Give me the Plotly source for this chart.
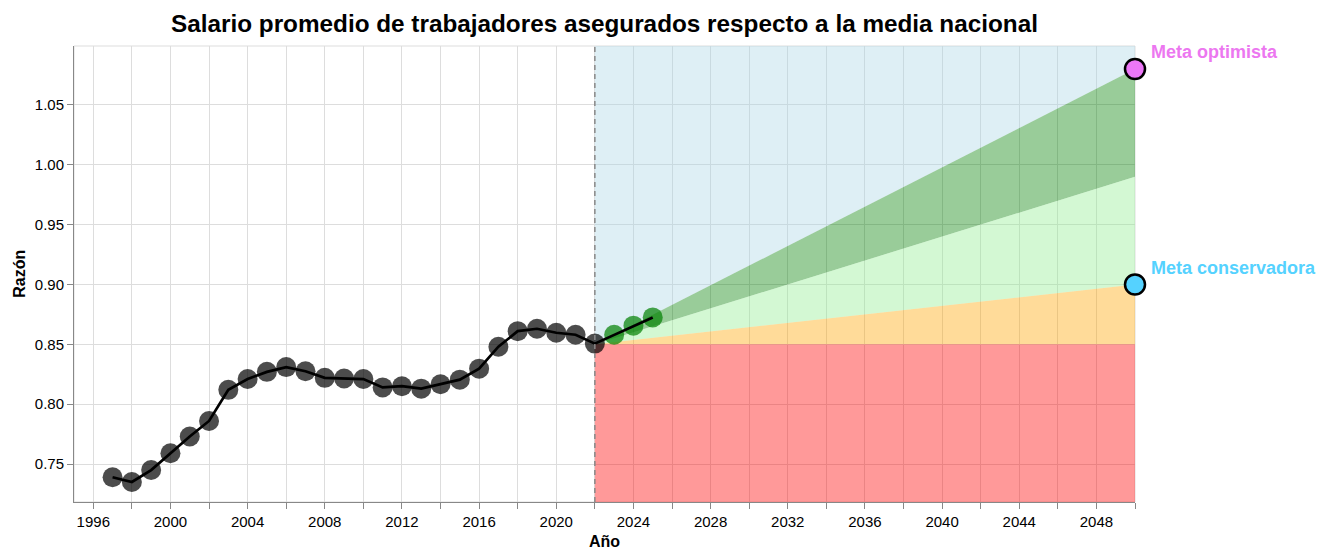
import plotly.graph_objects as go

# ---------------- data ----------------
years_hist = [1997, 1998, 1999, 2000, 2001, 2002, 2003, 2004, 2005, 2006, 2007, 2008, 2009,
              2010, 2011, 2012, 2013, 2014, 2015, 2016, 2017, 2018, 2019, 2020, 2021, 2022]
ratio_hist = [0.739, 0.735, 0.745, 0.759, 0.773, 0.786, 0.812, 0.821, 0.827, 0.831, 0.8275,
              0.822, 0.8215, 0.821, 0.814, 0.815, 0.813, 0.8167, 0.8205, 0.8297, 0.848,
              0.861, 0.863, 0.8597, 0.858, 0.8506]
years_recent = [2023, 2024, 2025]
ratio_recent = [0.858, 0.8656, 0.8725]

proj_start = 2022
goal_year = 2050
base_value = 0.85
meta_conservadora = 0.90
meta_intermedia = 0.99
meta_optimista = 1.08

x_range = [1995, 2050]
y_range = [0.7183, 1.0992]

title_text = "Salario promedio de trabajadores asegurados respecto a la media nacional"
x_title = "Año"
y_title = "Razón"
label_opt = "Meta optimista"
label_cons = "Meta conservadora"

FONT = "Liberation Sans, Arial, sans-serif"

fig = go.Figure()

def band(xs, ys, color):
    fig.add_trace(go.Scatter(x=xs, y=ys, fill="toself", fillcolor=color, mode="lines",
                             line=dict(width=0), hoverinfo="skip", showlegend=False))

# blue region above optimistic line
band([proj_start, goal_year, goal_year, proj_start],
     [base_value, meta_optimista, y_range[1], y_range[1]], "rgba(173,216,230,0.4)")
# dark green: between intermediate and optimistic
band([proj_start, goal_year, goal_year],
     [base_value, meta_optimista, meta_intermedia], "rgba(0,128,0,0.4)")
# light green: between conservative and intermediate
band([proj_start, goal_year, goal_year],
     [base_value, meta_intermedia, meta_conservadora], "rgba(144,238,144,0.4)")
# orange: between base and conservative
band([proj_start, goal_year, goal_year],
     [base_value, meta_conservadora, base_value], "rgba(255,165,0,0.4)")
# red: below base
band([proj_start, goal_year, goal_year, proj_start],
     [base_value, base_value, y_range[0], y_range[0]], "rgba(255,0,0,0.4)")

# markers
fig.add_trace(go.Scatter(x=years_hist, y=ratio_hist, mode="markers",
                         marker=dict(size=20, color="rgba(0,0,0,0.7)", line=dict(width=0)),
                         showlegend=False, hoverinfo="x+y"))
fig.add_trace(go.Scatter(x=years_recent, y=ratio_recent, mode="markers",
                         marker=dict(size=20, color="rgba(0,128,0,0.7)", line=dict(width=0)),
                         showlegend=False, hoverinfo="x+y"))
# line on top
fig.add_trace(go.Scatter(x=years_hist + years_recent, y=ratio_hist + ratio_recent, mode="lines",
                         line=dict(color="black", width=2.7), showlegend=False, hoverinfo="skip"))

# goal points
fig.add_trace(go.Scatter(x=[goal_year], y=[meta_optimista], mode="markers",
                         marker=dict(size=20, color="#ec77f7", line=dict(color="black", width=2.5)),
                         showlegend=False, cliponaxis=False))
fig.add_trace(go.Scatter(x=[goal_year], y=[meta_conservadora], mode="markers",
                         marker=dict(size=20, color="#55d2ff", line=dict(color="black", width=2.5)),
                         showlegend=False, cliponaxis=False))

fig.add_annotation(x=goal_year, y=meta_optimista, text="<b>%s</b>" % label_opt, showarrow=False,
                   xanchor="left", yanchor="middle", xshift=14, yshift=17,
                   font=dict(family=FONT, size=18, color="#ec77f0"))
fig.add_annotation(x=goal_year, y=meta_conservadora, text="<b>%s</b>" % label_cons, showarrow=False,
                   xanchor="left", yanchor="middle", xshift=14, yshift=16,
                   font=dict(family=FONT, size=18, color="#55d2ff"))

# axis titles
fig.add_annotation(xref="paper", yref="paper", x=-0.052, y=0.5, text="<b>%s</b>" % y_title,
                   textangle=-90, showarrow=False, xanchor="center", yanchor="middle",
                   font=dict(family=FONT, size=16, color="black"))
fig.add_annotation(xref="paper", yref="paper", x=0.5, y=-0.086, text="<b>%s</b>" % x_title,
                   showarrow=False, xanchor="center", yanchor="middle",
                   font=dict(family=FONT, size=16, color="black"))

# frame and dashed separator
fig.add_shape(type="rect", xref="paper", yref="paper", x0=0, x1=1, y0=0, y1=1,
              line=dict(color="#dddddd", width=1), layer="below")
fig.add_shape(type="line", xref="x", yref="paper", x0=proj_start, x1=proj_start, y0=0, y1=1,
              line=dict(color="#888888", width=1.5, dash="5px,4px"), layer="above")

fig.update_layout(
    width=1330, height=550,
    margin=dict(l=74, r=195, t=46, b=48),
    paper_bgcolor="white", plot_bgcolor="white",
    font=dict(family=FONT, size=15, color="black"),
    title=dict(text="<b>%s</b>" % title_text, x=0.4545, xanchor="center",
               y=1 - 23 / 550, yanchor="middle", yref="container",
               font=dict(family=FONT, size=24.3, color="black")),
    showlegend=False,
)
fig.update_xaxes(range=x_range, dtick=4, tick0=1996, showgrid=True, gridcolor="#dddddd",
                 gridwidth=1, zeroline=False, showline=True, linecolor="#888888", linewidth=1,
                 ticks="outside", ticklen=6, tickcolor="#888888",
                 tickfont=dict(family=FONT, size=15, color="black"),
                 minor=dict(dtick=2, tick0=1996, showgrid=True, gridcolor="#dddddd",
                            ticks="outside", ticklen=6, tickcolor="#888888"))
fig.update_yaxes(range=y_range, dtick=0.05, tick0=0.75, tickformat=".2f", showgrid=True,
                 gridcolor="#dddddd", gridwidth=1, zeroline=False, showline=True,
                 linecolor="#888888", linewidth=1, ticks="outside", ticklen=6,
                 tickcolor="#888888", tickfont=dict(family=FONT, size=15, color="black"))

fig.write_html("out.html", config={"displayModeBar": False},
               post_script="document.body.style.margin='0';document.body.style.overflow='hidden';")
